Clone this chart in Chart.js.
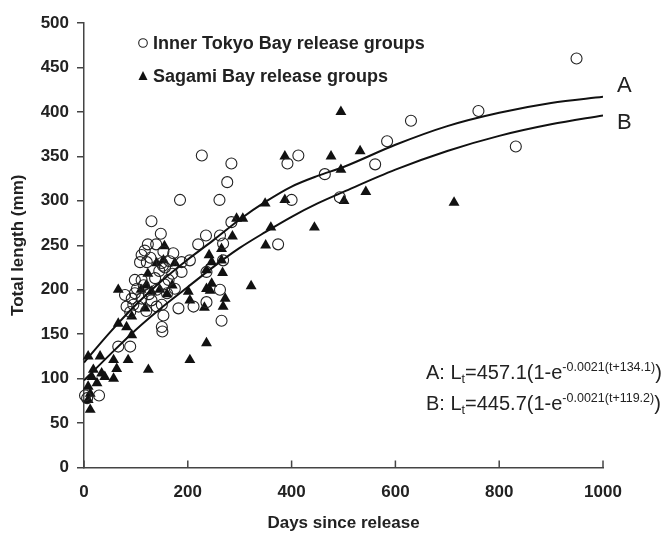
<!DOCTYPE html>
<html><head><meta charset="utf-8">
<script src="https://cdn.jsdelivr.net/npm/chart.js@4"></script>
<style>
html,body{margin:0;padding:0;background:#fff;}
#wrap{position:relative;width:665px;height:536px;overflow:hidden;}
canvas{position:absolute;left:0;top:0;}
.t{position:absolute;white-space:nowrap;font-family:"Liberation Sans",Arial,sans-serif;color:#222;line-height:1;}
.leg{font-weight:bold;font-size:18px;}
.eq{font-size:20px;}
.eq sup{font-size:12.5px;vertical-align:baseline;position:relative;top:-0.62em;line-height:0;}
.eq sub{font-size:12.5px;vertical-align:baseline;position:relative;top:0.3em;line-height:0;}
.lab{font-size:22px;}
</style></head>
<body><div id="wrap"><canvas id="c" width="665" height="536"></canvas>
<div class="t leg" style="left:153px;top:34px">Inner Tokyo Bay release groups</div>
<div class="t leg" style="left:153px;top:67px">Sagami Bay release groups</div>
<div class="t eq" style="left:426px;top:362px">A: L<sub>t</sub>=457.1(1-e<sup>-0.0021(t+134.1)</sup>)</div>
<div class="t eq" style="left:426px;top:393px">B: L<sub>t</sub>=445.7(1-e<sup>-0.0021(t+119.2)</sup>)</div>
<div class="t lab" style="left:617px;top:74px">A</div>
<div class="t lab" style="left:617px;top:111px">B</div>
</div>
<script>
// ---- data ----
const xTicks = [0, 200, 400, 600, 800, 1000];
const yTicks = [0, 50, 100, 150, 200, 250, 300, 350, 400, 450, 500];

const tokyoDays = [2,6,29,66,89,79,82,92,89,98,98,105,108,111,111,111,117,121,123,130,130,137,139,148,150,152,150,150,151,153,153,156,163,172,175,182,185,188,188,204,211,220,227,235,236,236,262,262,268,268,265,276,284,284,261,374,392,400,413,464,493,561,584,630,760,832,949,115,125,140,145,160,165,102,128,170,155,95,120,140];
const tokyoLength = [81,78,81,136,136,194,181,190,175,196,211,181,231,190,211,239,244,231,251,188,277,213,251,263,230,227,183,158,153,171,243,225,211,241,201,179,301,231,220,233,181,251,351,261,220,186,261,200,252,233,165,321,342,276,301,251,342,301,351,330,304,341,367,390,401,361,460,205,195,200,221,196,232,201,236,218,206,183,176,181];

const sagamiDays = [8,31,18,40,57,63,25,8,12,8,12,15,34,57,85,66,82,92,92,66,118,124,123,130,146,153,155,201,204,204,232,236,241,243,236,236,246,246,265,265,267,268,272,286,294,306,322,349,350,360,387,387,444,476,495,495,501,532,543,713,120,140,160,175,110,170];
const sagamiLength = [125,125,110,102,100,111,95,91,83,76,65,102,106,121,121,162,158,149,170,200,179,110,218,198,200,233,249,198,188,121,180,140,239,199,201,222,231,207,246,233,219,181,190,260,280,280,204,297,250,270,301,350,270,350,400,335,300,356,310,298,205,230,195,230,200,205];

const curveDays = [0,50,100,150,200,250,300,350,400,450,500,600,700,800,900,1000];
const curveA = [118,152,183,210,234,256,279,299,316,328,338,363,384,399,410,417];
const curveB = [98,127,155,180,203,226,247,265,282,297,310,335,356,373,386,396];

const pts = (xs, ys) => xs.map((x, i) => ({x: x, y: ys[i]}));

const FONT = 'Liberation Sans';
const axisColor = '#444';
const textColor = '#222';

const innerTicks = {
  id: 'innerTicks',
  afterDraw(chart) {
    const s = chart.scales.x, ctx = chart.ctx;
    ctx.save();
    ctx.strokeStyle = axisColor;
    ctx.lineWidth = 1.5;
    s.ticks.forEach(t => {
      const px = s.getPixelForValue(t.value);
      ctx.beginPath();
      ctx.moveTo(px, s.top);
      ctx.lineTo(px, s.top - 7);
      ctx.stroke();
    });
    ctx.restore();
  }
};

const legendMarkers = {
  id: 'legendMarkers',
  afterDraw(chart) {
    const ctx = chart.ctx;
    ctx.save();
    ctx.strokeStyle = '#222';
    ctx.lineWidth = 1.1;
    ctx.beginPath();
    ctx.arc(143, 43, 4.3, 0, Math.PI * 2);
    ctx.stroke();
    ctx.fillStyle = '#111';
    ctx.beginPath();
    ctx.moveTo(143, 71);
    ctx.lineTo(147.5, 80);
    ctx.lineTo(138.5, 80);
    ctx.closePath();
    ctx.fill();
    ctx.restore();
  }
};

new Chart(document.getElementById('c'), {
  type: 'scatter',
  data: {
    datasets: [
      {label: 'A', data: pts(curveDays, curveA), showLine: true, borderColor: '#111', borderWidth: 2,
       pointRadius: 0, cubicInterpolationMode: 'monotone', fill: false},
      {label: 'B', data: pts(curveDays, curveB), showLine: true, borderColor: '#111', borderWidth: 2,
       pointRadius: 0, cubicInterpolationMode: 'monotone', fill: false},
      {label: 'Inner Tokyo Bay release groups', data: pts(tokyoDays, tokyoLength), pointStyle: 'circle',
       pointRadius: 5.5, borderColor: '#222', borderWidth: 1.1, backgroundColor: 'rgba(0,0,0,0)', clip: false},
      {label: 'Sagami Bay release groups', data: pts(sagamiDays, sagamiLength), pointStyle: 'triangle',
       pointRadius: 6.3, borderColor: '#111', borderWidth: 0, backgroundColor: '#111', clip: false}
    ]
  },
  options: {
    responsive: false,
    animation: false,
    devicePixelRatio: 1,
    layout: {padding: {left: 0, right: 62, top: 23, bottom: 0}},
    plugins: {legend: {display: false}, tooltip: {enabled: false}},
    scales: {
      x: {
        type: 'linear', min: 0, max: 1000,
        afterFit(s) { s.height = 68.5; },
        afterBuildTicks(s) { s.ticks = xTicks.map(v => ({value: v})); },
        grid: {drawOnChartArea: false, drawTicks: false},
        border: {display: true, color: axisColor, width: 1.5},
        ticks: {padding: 15, color: textColor, maxRotation: 0, callback: v => String(v),
                font: {family: FONT, weight: 'bold', size: 17}},
        title: {display: true, text: 'Days since release', color: textColor,
                font: {family: FONT, weight: 'bold', size: 17}, padding: {top: 0, bottom: 2}}
      },
      y: {
        type: 'linear', min: 0, max: 500,
        afterFit(s) { s.width = 84; },
        afterBuildTicks(s) { s.ticks = yTicks.map(v => ({value: v})); },
        grid: {drawOnChartArea: false, drawTicks: true, tickLength: 7, color: axisColor, lineWidth: 1.5},
        border: {display: true, color: axisColor, width: 1.5},
        ticks: {padding: 8, color: textColor, callback: v => String(v),
                font: {family: FONT, weight: 'bold', size: 17}},
        title: {display: true, text: 'Total length (mm)', color: textColor,
                font: {family: FONT, weight: 'bold', size: 17}, padding: {top: 8, bottom: 0}}
      }
    }
  },
  plugins: [innerTicks, legendMarkers]
});
</script>
</body></html>
